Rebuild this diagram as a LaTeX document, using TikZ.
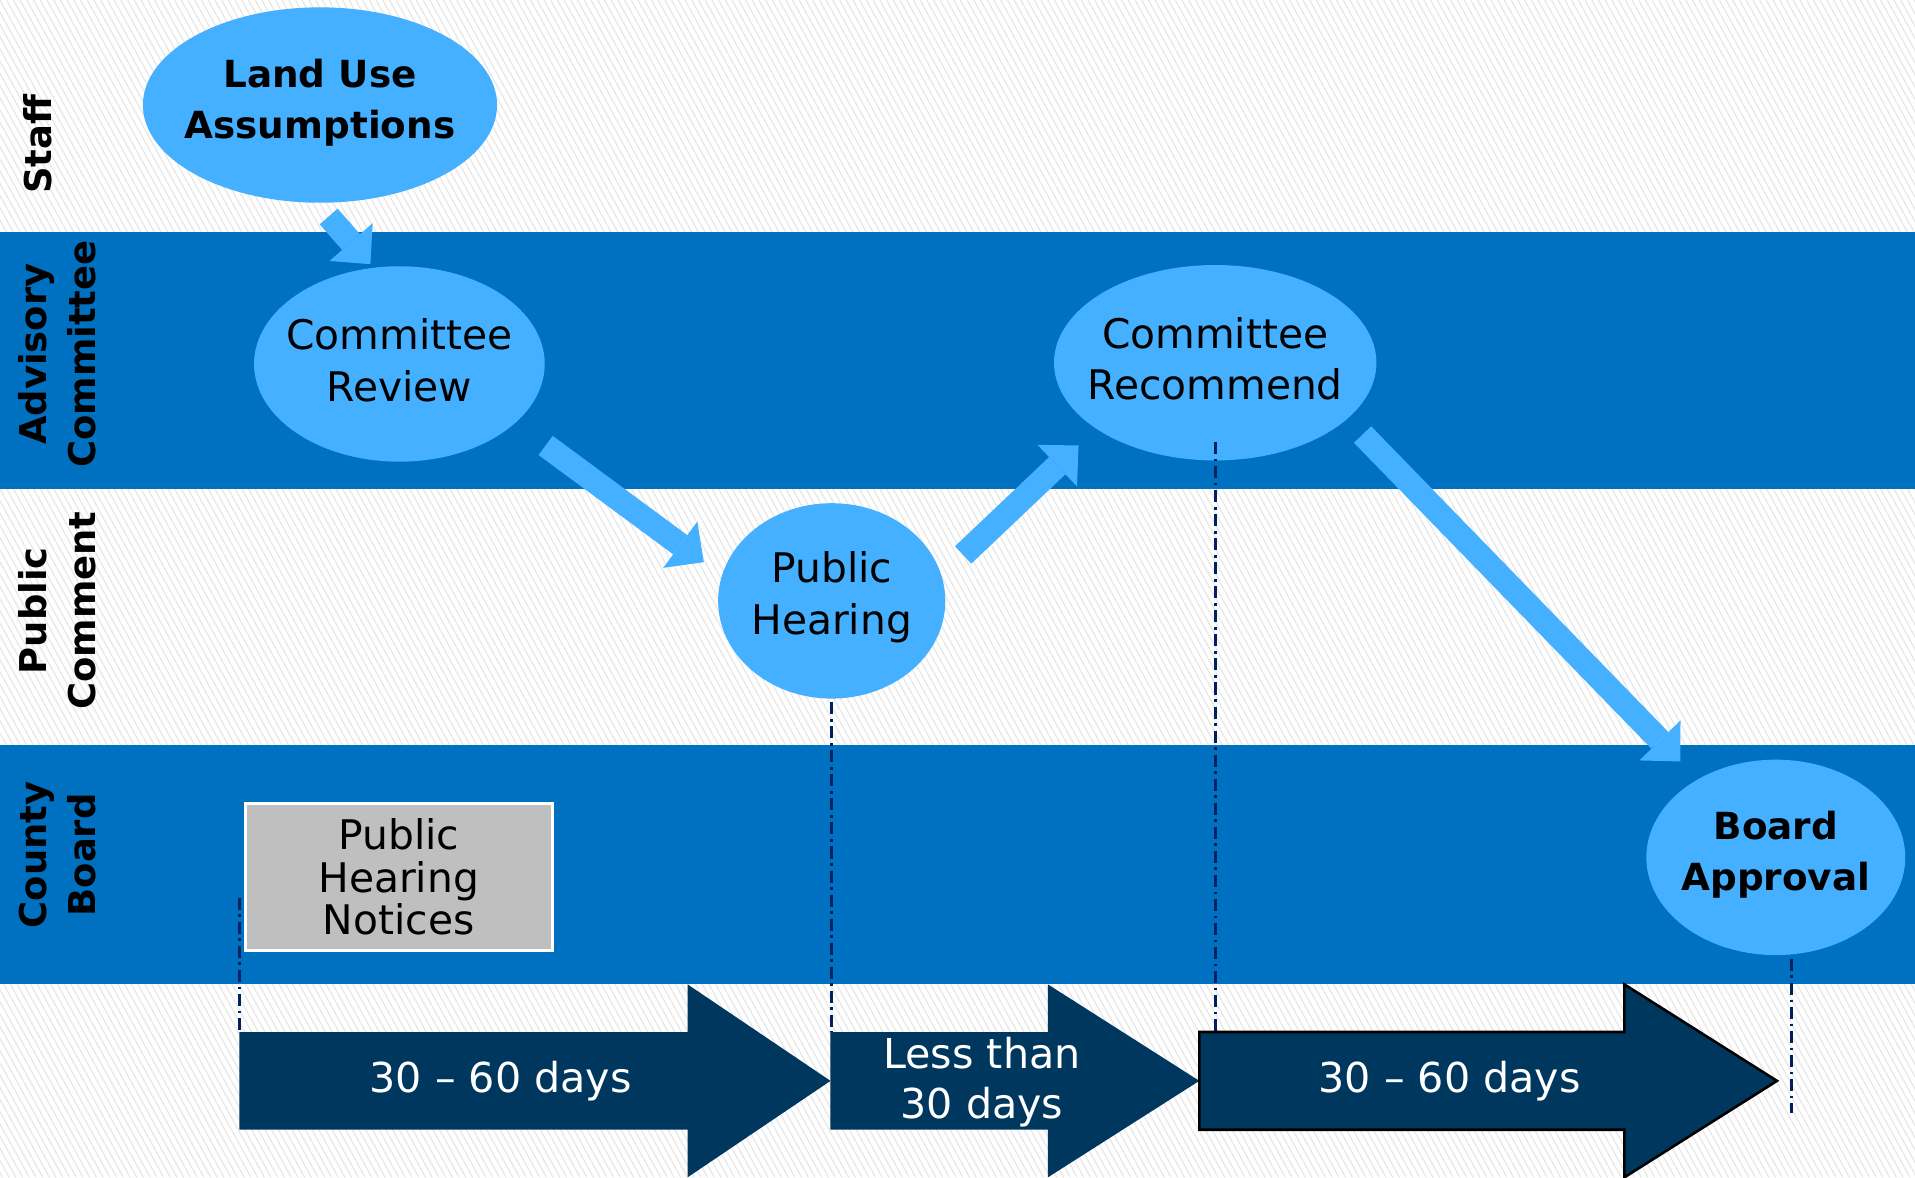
\documentclass[tikz,border=0pt]{standalone}
\usepackage{fontspec}
\setmainfont{DejaVu Sans}
\usepackage{tikz}
\usetikzlibrary{shapes.geometric,arrows.meta}
\definecolor{bandblue}{HTML}{0070C0}
\definecolor{stepblue}{HTML}{45B0FF}
\definecolor{timenavy}{HTML}{00375F}
\definecolor{guidenavy}{HTML}{002060}
\definecolor{noticegray}{HTML}{BFBFBF}

\begin{document}
\begin{tikzpicture}[x=1cm,y=-1cm,
		phase/.style={ellipse,fill=stepblue,inner sep=0pt,outer sep=0pt,minimum height=1.6cm},
		phasetext/.style={align=center,yshift=0.03cm,font=\fontsize{9.5}{11.95}\selectfont},
		bphasetext/.style={align=center,yshift=0.02cm,font=\fontsize{8.7}{11.95}\selectfont\bfseries},
		lane/.style={rotate=90,align=center,font=\fontsize{8.6}{11.4}\selectfont\bfseries},
		notice/.style={fill=noticegray,draw=white,line width=0.7pt,minimum width=2.51cm,minimum height=1.2cm,inner sep=0pt,align=center,font=\fontsize{9.5}{9.96}\selectfont},
		flow/.style={stepblue,line width=0.195cm,-{Triangle[length=0.24cm,width=0.47cm,line width=0pt]}},
		guide/.style={guidenavy,line width=0.7pt,dash pattern=on 2.8pt off 1.1pt on 0.6pt off 1.1pt},
		timearrow/.style={fill=timenavy},
		days/.style={white,align=center,font=\fontsize{9.6}{11.6}\selectfont},
		hatch/.style={black!9,line width=0.3pt}]
		\useasboundingbox (0,0) rectangle (15.68,9.64);
		
		\fill[white] (0,0) rectangle (15.68,9.64);
		\begin{scope}
			\clip (0,0) rectangle (15.68,9.64);
			\foreach \x in {-5.5,-5.445,...,15.7}{
				\draw[hatch] (\x,0) -- ++(5.3,9.64);
			}
		\end{scope}
		
		\fill[bandblue] (0,1.90) rectangle (15.68,4.00);
		\fill[bandblue] (0,6.10) rectangle (15.68,8.06);
		
		\node[lane] (staff) at (0.31,1.18) {Staff};
		\node[lane] (advisory) at (0.47,2.90) {Advisory\\Committee};
		\node[lane] (public) at (0.47,5.00) {Public\\Comment};
		\node[lane] (county) at (0.47,7.00) {County\\Board};
		
		\node[phase,minimum width=2.9cm,label={[bphasetext]center:{Land Use\\Assumptions}}] (landuse) at (2.62,0.86) {};
		\node[phase,minimum width=2.38cm,label={[phasetext]center:{Committee\\Review}}] (review) at (3.27,2.98) {};
		\node[phase,minimum width=1.86cm,label={[phasetext]center:{Public\\Hearing}}] (hearing) at (6.81,4.92) {};
		\node[phase,minimum width=2.64cm,label={[phasetext]center:{Committee\\Recommend}}] (recommend) at (9.95,2.97) {};
		\node[phase,minimum width=2.12cm,label={[bphasetext]center:{Board\\Approval}}] (approval) at (14.54,7.02) {};
		\node[notice] (notices) at (3.265,7.18) {Public\\Hearing\\Notices};
		
		\draw[flow,shorten <=0.15cm,shorten >=0.04cm] (landuse.-92) -- (review.105);
		\draw[flow,shorten <=0.31cm,shorten >=0.185cm] (review.-27) -- (hearing.167.5);
		\draw[flow,shorten <=0.245cm,shorten >=0.2cm] (hearing.13.6) -- (recommend.-151);
		\draw[flow,shorten <=0.18cm,shorten >=0.205cm] (recommend.-23) -- (approval.135.7);
		
		\draw[guide] (1.96,7.35) -- (1.96,8.45);
		\draw[guide] (6.81,5.75) -- (6.81,8.45);
		\draw[guide] (9.95,3.62) -- (9.95,8.45);
		\draw[guide] (14.67,7.85) -- (14.67,9.11);
		
		\fill[timearrow] (1.96,8.45) -- (5.63,8.45) -- (5.63,8.06) -- (6.80,8.85) -- (5.63,9.64) -- (5.63,9.25) -- (1.96,9.25) -- cycle;
		\node[days] (first) at (4.10,8.85) {30 – 60 days};
		\fill[timearrow] (6.80,8.45) -- (8.58,8.45) -- (8.58,8.06) -- (9.82,8.85) -- (8.58,9.64) -- (8.58,9.25) -- (6.80,9.25) -- cycle;
		\node[days] (second) at (8.04,8.86) {Less than\\30 days};
		\filldraw[timearrow,draw=black,line width=0.6pt] (9.82,8.45) -- (13.30,8.45) -- (13.30,8.06) -- (14.55,8.85) -- (13.30,9.64) -- (13.30,9.25) -- (9.82,9.25) -- cycle;
		\node[days] (third) at (11.87,8.85) {30 – 60 days};
	\end{tikzpicture}
\end{document}
